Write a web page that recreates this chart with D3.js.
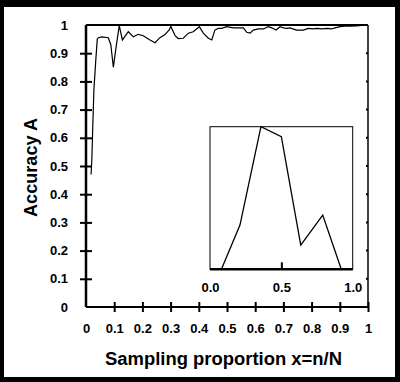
<!DOCTYPE html>
<html><head><meta charset="utf-8">
<script src="https://cdn.jsdelivr.net/npm/d3@7"></script>
<style>
html,body{margin:0;padding:0;background:#000;}
svg{display:block;}
text{font-family:"Liberation Sans",Arial,sans-serif;font-weight:bold;fill:#000;}
</style></head>
<body>
<script>
// ---- data ----
const xVals = [0.018,0.021,0.024,0.028,0.035,0.040,0.044,0.056,0.079,0.088,0.097,0.106,0.118,0.129,0.150,0.168,0.185,0.203,0.227,0.245,0.262,0.280,0.295,0.301,0.316,0.327,0.345,0.363,0.380,0.402,0.416,0.434,0.446,0.457,0.469,0.481,0.499,0.522,0.558,0.570,0.582,0.593,0.611,0.629,0.646,0.659,0.674,0.688,0.700,0.712,0.723,0.747,0.771,0.788,0.806,0.818,0.836,0.854,0.871,0.883,0.901,0.918,0.936,0.960,0.995];
const accuracy = [0.47,0.53,0.64,0.77,0.88,0.95,0.955,0.958,0.955,0.93,0.85,0.917,0.998,0.947,0.976,0.958,0.967,0.962,0.947,0.937,0.955,0.966,0.983,0.995,0.962,0.952,0.953,0.971,0.976,0.994,0.971,0.953,0.947,0.982,0.988,0.988,0.994,0.990,0.990,0.974,0.971,0.982,0.986,0.986,0.994,0.990,0.982,0.994,0.990,0.988,0.990,0.982,0.982,0.988,0.986,0.988,0.986,0.988,0.986,0.990,0.994,0.996,0.996,0.997,1.0];
const xTickValues = [0,0.1,0.2,0.3,0.4,0.5,0.6,0.7,0.8,0.9,1];
const xTickLabels = ["0","0.1","0.2","0.3","0.4","0.5","0.6","0.7","0.8","0.9","1"];
const yTickValues = [0,0.1,0.2,0.3,0.4,0.5,0.6,0.7,0.8,0.9,1];
const yTickLabels = ["0","0.1","0.2","0.3","0.4","0.5","0.6","0.7","0.8","0.9","1"];
const xTitle = "Sampling proportion x=n/N";
const yTitle = "Accuracy A";
// inset
const insetX = [0.08,0.21,0.357,0.5,0.636,0.79,0.92];
const insetY = [0,0.31,1.0,0.93,0.17,0.38,0];
const insetTickValues = [0,0.5,1];
const insetTickLabels = ["0.0","0.5","1.0"];

const W = 400, H = 382;
const svg = d3.select("body").append("svg").attr("width", W).attr("height", H);
svg.append("rect").attr("x",0).attr("y",0).attr("width",W).attr("height",H).attr("fill","#000");
svg.append("rect").attr("x",4).attr("y",7).attr("width",391).attr("height",370).attr("fill","#fff");

const x = d3.scaleLinear().domain([0,1]).range([86,368]);
const y = d3.scaleLinear().domain([0,1]).range([307,25]);

// frame top/right
svg.append("line").attr("x1",x(0)).attr("x2",x(1)).attr("y1",y(1)).attr("y2",y(1)).attr("stroke","#000").attr("stroke-width",2);
svg.append("line").attr("x1",x(1)).attr("x2",x(1)).attr("y1",y(1)).attr("y2",y(0)).attr("stroke","#000").attr("stroke-width",1.5);
svg.append("g").selectAll("line").data(yTickValues.slice(1,-1)).join("line")
  .attr("x1",x(1)-2).attr("x2",x(1)).attr("y1",d=>y(d)).attr("y2",d=>y(d)).attr("stroke","#000").attr("stroke-width",2);

// x axis
const gx = svg.append("g").attr("transform",`translate(0,${y(0)})`)
  .call(d3.axisBottom(x).tickValues(xTickValues).tickFormat((d,i)=>xTickLabels[i]).tickSize(5).tickPadding(12));
gx.select(".domain").attr("stroke-width",2).attr("d",`M${x(0)},0H${x(1)}`);
gx.selectAll(".tick line").attr("y1",-5).attr("y2",5).attr("stroke-width",2);
gx.selectAll(".tick text").attr("font-size",13).attr("font-family",null).attr("fill","#000");
gx.selectAll(".tick").filter((d,i)=>i===0).select("line").remove();

// y axis
const gy = svg.append("g").attr("transform",`translate(${x(0)},0)`)
  .call(d3.axisLeft(y).tickValues(yTickValues).tickFormat((d,i)=>yTickLabels[i]).tickSize(6).tickPadding(12));
gy.select(".domain").attr("stroke-width",2.5).attr("d",`M0,${y(0)}V${y(1)}`);
gy.selectAll(".tick line").attr("x1",-6).attr("x2",6).attr("stroke-width",2);
gy.selectAll(".tick text").attr("font-size",13).attr("font-family",null).attr("fill","#000").attr("x",-18);
gy.selectAll(".tick").filter((d,i)=>i===0||i===yTickValues.length-1).select("line").remove();
svg.selectAll(".domain").attr("stroke","#000");
svg.selectAll(".tick line").attr("stroke","#000");

// main line
const pts = xVals.map((v,i)=>[v,accuracy[i]]);
svg.append("path").datum(pts)
  .attr("d", d3.line().x(d=>x(d[0])).y(d=>y(d[1])))
  .attr("fill","none").attr("stroke","#000").attr("stroke-width",1.2);

// titles
svg.append("text").attr("x",223.5).attr("y",365).attr("text-anchor","middle")
  .attr("font-size",18).attr("textLength",237).attr("lengthAdjust","spacingAndGlyphs").text(xTitle);
svg.append("text").attr("transform","translate(37,167.5) rotate(-90)").attr("text-anchor","middle")
  .attr("font-size",18).attr("textLength",99).attr("lengthAdjust","spacingAndGlyphs").text(yTitle);

// inset
const ix = d3.scaleLinear().domain([0,1]).range([210,352.7]);
const iy = d3.scaleLinear().domain([0,1]).range([269.3,126.7]);
svg.append("rect").attr("x",ix(0)).attr("y",iy(1)).attr("width",ix(1)-ix(0)).attr("height",iy(0)-iy(1))
  .attr("fill","#fff").attr("stroke","#000").attr("stroke-width",1);
const gi = svg.append("g").attr("transform",`translate(0,${iy(0)})`)
  .call(d3.axisBottom(ix).tickValues(insetTickValues).tickFormat((d,i)=>insetTickLabels[i]).tickSize(0).tickPadding(13));
gi.select(".domain").attr("stroke","#000").attr("stroke-width",2.5).attr("d",`M${ix(0)},0H${ix(1)}`);
gi.selectAll(".tick line").attr("y1",-7).attr("y2",0).attr("stroke","#000").attr("stroke-width",2);
gi.selectAll(".tick").filter(d=>d!==0.5).select("line").remove();
gi.selectAll(".tick text").attr("font-size",13).attr("font-family",null).attr("fill","#000");
svg.append("path").datum(insetX.map((v,i)=>[v,insetY[i]]))
  .attr("d", d3.line().x(d=>ix(d[0])).y(d=>iy(d[1])))
  .attr("fill","none").attr("stroke","#000").attr("stroke-width",1.3);
</script>
</body></html>
